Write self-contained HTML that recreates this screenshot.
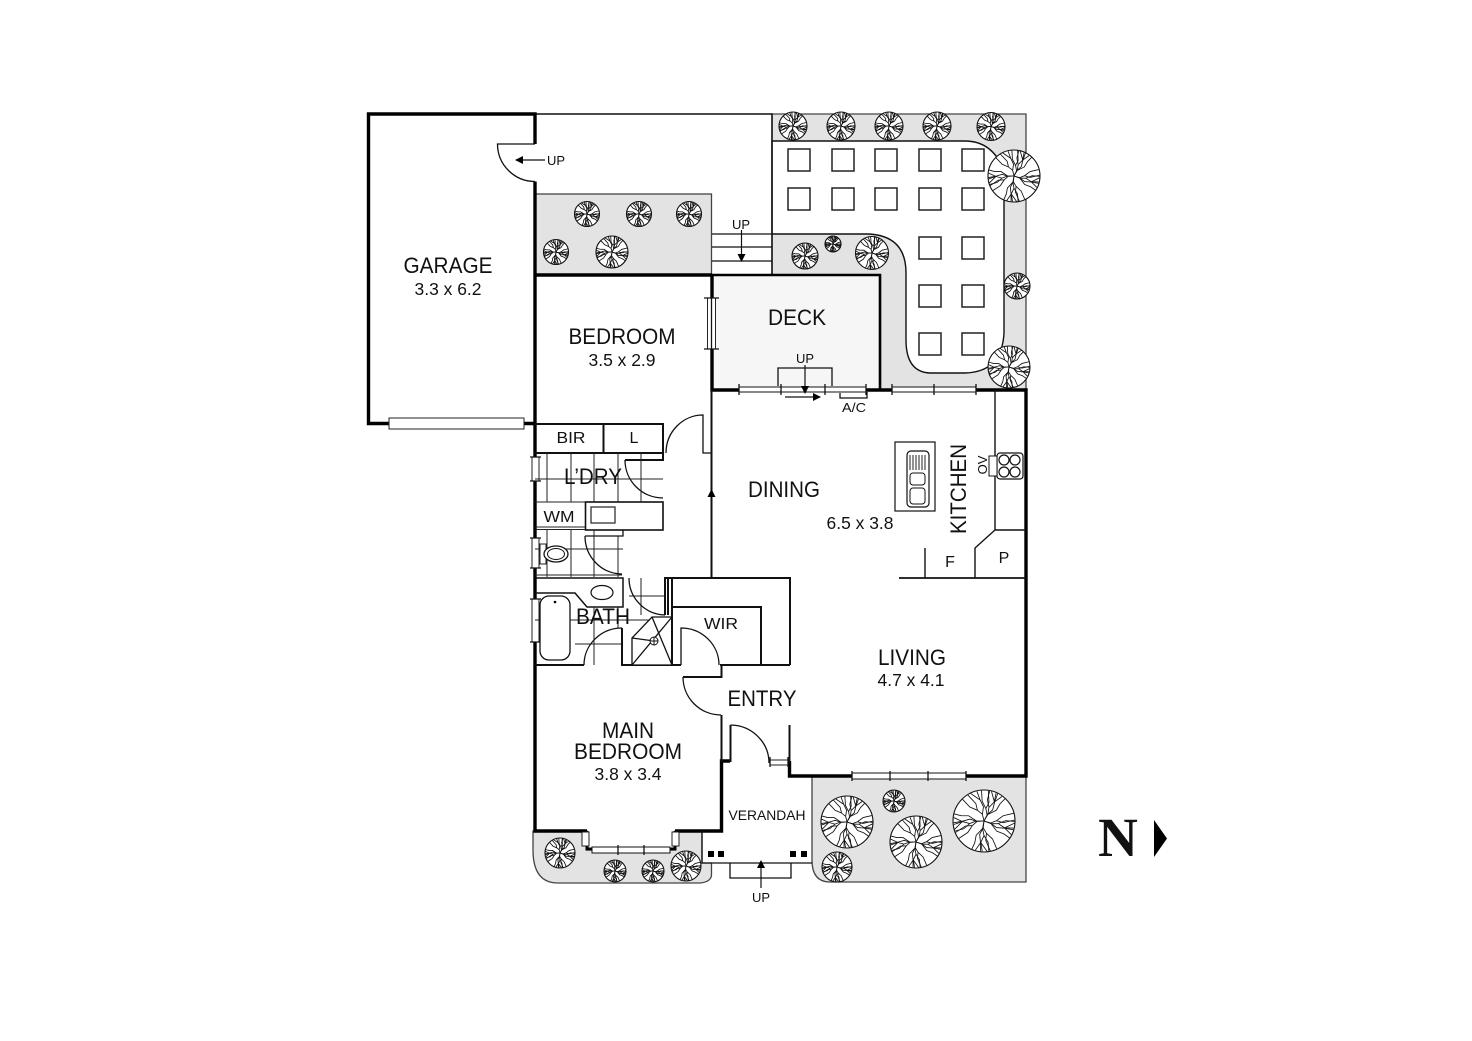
<!DOCTYPE html>
<html><head><meta charset="utf-8"><style>
html,body{margin:0;padding:0;background:#fff}
svg{display:block;filter:blur(.3px)}
text{font-family:"Liberation Sans",Arial,sans-serif;fill:#111;text-anchor:middle}
.l{font-size:22px}.d{font-size:17.500px}.s{font-size:13px}.m{font-size:16px}
.t{fill:none;stroke:#111;stroke-width:1.3}
.w{fill:none;stroke:#000;stroke-width:3.4}
.m2{fill:none;stroke:#111;stroke-width:2}
.g{fill:#e3e3e3;stroke:#444;stroke-width:1.3}
.tile{fill:none;stroke:#222;stroke-width:1}
.sq{fill:#fff;stroke:#222;stroke-width:1.5}
.win{fill:#fff;stroke:#222;stroke-width:1}
</style></head><body>
<svg width="1472" height="1041" viewBox="0 0 1472 1041" xmlns="http://www.w3.org/2000/svg">
<defs>
<g id="b1"><path d="M0 0L5-10L3-20L8-30L7-49M5-10L14-18L17-30L22-44M3-20L-3-32L-4-49M17-30L12-48" fill="none" stroke="#111" stroke-width=".85" vector-effect="non-scaling-stroke"/></g>
<g id="b2"><path d="M0 0L-2-12L-8-22L-7-34L-14-47M-2-12L4-26L2-38L3-50M-8-22L-18-30L-24-43M-7-34L-3-49" fill="none" stroke="#111" stroke-width=".85" vector-effect="non-scaling-stroke"/></g>
<g id="tree">
<circle r="50" fill="#fff" stroke="#111" stroke-width="1.1" vector-effect="non-scaling-stroke"/>
<use href="#b1"/><use href="#b2" transform="rotate(40)"/><use href="#b1" transform="rotate(80)"/><use href="#b2" transform="rotate(120)"/><use href="#b1" transform="rotate(160)"/><use href="#b2" transform="rotate(200)"/><use href="#b1" transform="rotate(240)"/><use href="#b2" transform="rotate(280)"/><use href="#b1" transform="rotate(320)"/>
</g>
<marker id="a" viewBox="0 0 8 8" refX="7" refY="4" markerWidth="8" markerHeight="8" markerUnits="userSpaceOnUse" orient="auto"><path d="M0 0L8 4L0 8Z" fill="#000"/></marker>
</defs>
<rect width="1472" height="1041" fill="#fff"/>

<!-- gardens -->
<rect class="g" x="535" y="194" width="176.500" height="81"/>
<path class="g" d="M772 114H1026V390H880V275H772Z"/>
<path d="M772 141H965Q992 141 1004 170V333Q1002 372 965 373H930Q906 372 906 340V273Q906 235 867 234H772Z" fill="#fff" stroke="#111" stroke-width="1.4"/>
<rect x="712" y="275" width="168" height="115" fill="#f6f6f6"/>
<path class="g" d="M533 831H587V850H675V831H702V863H711.500V875Q711 882 700 883H558Q533 883 533 850Z"/>
<path class="g" d="M812 776V860Q812 882 830 882H1026V776Z"/>
<path d="M535 114H772V275" class="m2" style="stroke-width:1.500"/>

<!-- paving -->
<g class="sq">
<rect x="788" y="149" width="22" height="22"/><rect x="832" y="149" width="22" height="22"/><rect x="875" y="149" width="22" height="22"/><rect x="919" y="149" width="22" height="22"/><rect x="962" y="149" width="22" height="22"/>
<rect x="788" y="188" width="22" height="22"/><rect x="832" y="188" width="22" height="22"/><rect x="875" y="188" width="22" height="22"/><rect x="919" y="188" width="22" height="22"/><rect x="962" y="188" width="22" height="22"/>
<rect x="919" y="237" width="22" height="22"/><rect x="962" y="237" width="22" height="22"/>
<rect x="919" y="285" width="22" height="22"/><rect x="962" y="285" width="22" height="22"/>
<rect x="919" y="333" width="22" height="22"/><rect x="962" y="333" width="22" height="22"/>
</g>

<!-- trees -->
<use href="#tree" transform="translate(793 126) scale(.28)"/><use href="#tree" transform="translate(841 126) scale(.28)"/><use href="#tree" transform="translate(889 126) scale(.28)"/><use href="#tree" transform="translate(937 126) scale(.28)"/><use href="#tree" transform="translate(991 126.500) scale(.28)"/>
<use href="#tree" transform="translate(1014 176) scale(.52)"/><use href="#tree" transform="translate(1017 286) scale(.26)"/><use href="#tree" transform="translate(1009 367) scale(.42)"/>
<use href="#tree" transform="translate(872 253) scale(.33)"/><use href="#tree" transform="translate(805 256) scale(.26)"/><use href="#tree" transform="translate(833 244) scale(.16)"/>
<use href="#tree" transform="translate(587 214) scale(.25)"/><use href="#tree" transform="translate(639 214) scale(.25)"/><use href="#tree" transform="translate(689 214) scale(.25)"/><use href="#tree" transform="translate(556 252) scale(.25)"/><use href="#tree" transform="translate(612 252) scale(.32)"/>
<use href="#tree" transform="translate(847 822) scale(.52)"/><use href="#tree" transform="translate(894 801) scale(.22)"/><use href="#tree" transform="translate(916 842) scale(.52)"/><use href="#tree" transform="translate(984 821) scale(.62)"/><use href="#tree" transform="translate(837 867) scale(.30)"/>
<use href="#tree" transform="translate(560 853) scale(.30)"/><use href="#tree" transform="translate(615 871) scale(.22)"/><use href="#tree" transform="translate(653 871) scale(.22)"/><use href="#tree" transform="translate(686 866) scale(.30)"/>

<!-- outer walls -->
<path class="w" d="M535 144V114H368.500V423.500H389M524 423.500H535M535 181.500V831H587M712 275V390H1026V776H852M789.500 761V776H852M966 776H1026M675 831H721.500V761H730M535 275H712"/>
<path class="w" style="stroke-width:2.600" d="M880 390V275H712"/>
<path class="t" d="M535 144H497.500A37.500 37.500 0 0 0 535 181.500"/>
<path d="M545 160H516" stroke="#111" stroke-width="1.200" marker-end="url(#a)"/>
<rect class="win" x="389" y="418" width="135" height="11" stroke-width="1.300"/>

<!-- windows -->
<g>
<rect class="win" x="707.500" y="298" width="8" height="51"/><path class="t" d="M704 298H719M704 349H719M711.500 298V349"/>
<path d="M739 387H866V392H739Z" fill="#fff" stroke="#111"/><path d="M892 387H976V392H892Z" fill="#fff" stroke="#111"/>
<path class="t" d="M739 384V395M781 384V395M825 384V395M866 384V395M892 384V395M934 384V395M976 384V395"/>
<path d="M852 773H966V779H852Z" fill="#fff" stroke="#111"/>
<path class="t" d="M852 771V781M890 771V781M928 771V781M966 771V781"/>
<rect class="win" x="532" y="457" width="7" height="24"/><rect class="win" x="532" y="538" width="7" height="30"/><rect class="win" x="532" y="599" width="7" height="43"/>
<path class="t" d="M530 457H541M530 481H541M530 538H541M530 568H541M530 599H541M530 642H541"/>
</g>

<!-- deck items -->
<path class="t" d="M712 234H772M712 247H772M712 261H772"/>
<path d="M741.500 230V261" stroke="#111" stroke-width="1.200" marker-end="url(#a)"/>
<path class="t" d="M778 386V368H832V386M840 393V398H867V392"/>
<path d="M805 365V393" stroke="#111" stroke-width="1.200" marker-end="url(#a)"/>
<path d="M785 397H820" stroke="#111" stroke-width="1.200" marker-end="url(#a)"/>

<!-- BIR / laundry -->
<path class="m2" d="M535 424H663V460H625M535 453H663M603.500 424V453"/>
<path class="t" d="M625 460A38 38 0 0 0 663 498M666 453A37 38 0 0 1 703 415V453H711.500"/>
<path class="m2" d="M711.500 390V577"/>
<path d="M711.500 498V490" stroke="#111" stroke-width="1.200" marker-end="url(#a)"/>
<rect x="585.500" y="502" width="77.500" height="28" fill="#fff" stroke="#111" stroke-width="1.600"/>
<rect x="591" y="507" width="24" height="16" fill="#fff" stroke="#333" stroke-width="1.300"/>
<path class="tile" d="M547 453V502M571 453V502M594 453V502M618 453V502M641 453V502M535 479H663M535 502H585M535 527H585M535 529.500H585"/>
<path class="tile" d="M547 530V577M571 530V577M594 530V577M618 536V577M535 549H623M535 575H622"/>
<path class="t" d="M585 536H623V530M585 536A37 38 0 0 0 622 574"/>
<rect x="540" y="544" width="6" height="20" fill="#fff" stroke="#222"/>
<ellipse cx="556" cy="554" rx="12" ry="8" fill="#fff" stroke="#111" stroke-width="1.300"/><ellipse cx="556" cy="554" rx="8.500" ry="5.500" fill="#fff" stroke="#111"/>

<!-- bath -->
<path class="m2" style="stroke-width:1.500" d="M535 578H623V607H587L575 593H535"/>
<ellipse cx="602" cy="592.500" rx="11" ry="7" fill="#fff" stroke="#111" stroke-width="1.200"/>
<path class="tile" d="M594 607V665M618 607V628M641 578V615M629 596H665M535 620H672M575 644H622"/>
<path class="t" d="M629 578A37 37 0 0 0 665 615"/>
<path class="t" d="M584 665A38 37 0 0 1 622 628"/>
<path class="m2" d="M622 628V665H681M535 665H584M720 665H790"/>
<rect x="540" y="596" width="30" height="64" rx="9" fill="#fff" stroke="#111" stroke-width="1.300"/>
<circle cx="555" cy="602" r="1.300" fill="#000"/>
<path d="M632 638L652 617H672V665H632Z" fill="#fff" stroke="#111" stroke-width="1.300"/>
<path class="t" d="M632 665L672 617M652 617L672 665M632 638L654 641"/>
<circle cx="654" cy="641" r="4" fill="#fff" stroke="#111"/><path d="M650 641H658M654 637V645" stroke="#111"/>

<!-- WIR -->
<path class="m2" d="M665 615V578H790V665M672 578V665M668 578V615M672 607H761V665"/>
<path class="t" d="M681 665V628A38 37 0 0 1 719 665"/>

<!-- entry -->
<path class="m2" d="M721.500 665V677H683M721.500 715V762"/>
<path class="t" d="M683 677A38 38 0 0 0 721 715"/>
<path class="m2" d="M730.500 762V725M789.500 725V762"/>
<path class="t" d="M730.500 725A39 38 0 0 1 769 763"/>
<rect class="win" x="770" y="760" width="18" height="5"/><path class="t" d="M770 757V767M788 757V767"/>

<!-- bay window -->
<path class="w" style="stroke-width:3" d="M587 831V849H592M675 831V849H670"/>
<path d="M592 847H670V853H592Z" fill="#fff" stroke="#111"/><path class="t" d="M618 845V855M644 845V855"/>
<rect class="win" x="582" y="832" width="7" height="14"/><rect class="win" x="672" y="832" width="7" height="14"/>

<!-- verandah -->
<path class="t" d="M702 831V863H812M730 863V878H791V863"/>
<path d="M761 888V861" stroke="#111" stroke-width="1.200" marker-end="url(#a)"/>
<rect x="708" y="851" width="6" height="6"/><rect x="718" y="851" width="6" height="6"/><rect x="790" y="851" width="6" height="6"/><rect x="801" y="851" width="6" height="6"/>

<!-- kitchen -->
<path class="t" d="M995 390V530L975 548V578M995 530H1026M925 548V578" style="stroke-width:1.400"/>
<path class="m2" style="stroke-width:1.800" d="M899 578H1026"/>
<rect x="895" y="442" width="40" height="69" fill="#fff" stroke="#111" stroke-width="1.200"/>
<rect x="907" y="451" width="22" height="56" rx="4" fill="#fff" stroke="#111" stroke-width="1.200"/>
<path class="tile" d="M910 455V470M913 455V470M916 455V470M919 455V470M922 455V470M925 455V470"/>
<rect x="910" y="473" width="15" height="12" rx="3" fill="#fff" stroke="#111"/><rect x="910" y="488" width="15" height="16" rx="3" fill="#fff" stroke="#111"/>
<rect x="997" y="453" width="26" height="26" rx="3" fill="#fff" stroke="#111" stroke-width="1.200"/>
<rect x="989" y="456" width="8" height="20" fill="#fff" stroke="#111"/>
<g fill="#fff" stroke="#111" stroke-width="1.200"><circle cx="1004" cy="460" r="5"/><circle cx="1015" cy="460" r="5"/><circle cx="1004" cy="472" r="5"/><circle cx="1015" cy="472" r="5"/></g>

<!-- labels -->
<text class="l" x="448" y="273" textLength="89" lengthAdjust="spacingAndGlyphs">GARAGE</text>
<text class="d" x="448" y="295" textLength="67" lengthAdjust="spacingAndGlyphs">3.3 x 6.2</text>
<text class="l" x="622" y="344" textLength="107" lengthAdjust="spacingAndGlyphs">BEDROOM</text>
<text class="d" x="622" y="366" textLength="67" lengthAdjust="spacingAndGlyphs">3.5 x 2.9</text>
<text class="l" x="797" y="325" textLength="58" lengthAdjust="spacingAndGlyphs">DECK</text>
<text class="s" x="556" y="165">UP</text>
<text class="s" x="741" y="229">UP</text>
<text class="s" x="805" y="363">UP</text>
<text class="s" x="854" y="412" textLength="24" lengthAdjust="spacingAndGlyphs">A/C</text>
<text class="m" x="571" y="443" textLength="29" lengthAdjust="spacingAndGlyphs">BIR</text>
<text class="m" x="634" y="443">L</text>
<text class="l" x="593" y="484" textLength="58" lengthAdjust="spacingAndGlyphs">L’DRY</text>
<text class="m" x="559" y="522" textLength="31" lengthAdjust="spacingAndGlyphs">WM</text>
<text class="l" x="603" y="624" textLength="54" lengthAdjust="spacingAndGlyphs">BATH</text>
<text class="m" x="721" y="629" textLength="34" lengthAdjust="spacingAndGlyphs">WIR</text>
<text class="l" x="784" y="497" textLength="72" lengthAdjust="spacingAndGlyphs">DINING</text>
<text class="d" x="860" y="529" textLength="67" lengthAdjust="spacingAndGlyphs">6.5 x 3.8</text>
<text class="l" x="912" y="665" textLength="68" lengthAdjust="spacingAndGlyphs">LIVING</text>
<text class="d" x="911" y="686" textLength="67" lengthAdjust="spacingAndGlyphs">4.7 x 4.1</text>
<text class="l" x="762" y="706" textLength="69" lengthAdjust="spacingAndGlyphs">ENTRY</text>
<text class="l" x="628" y="738" textLength="52" lengthAdjust="spacingAndGlyphs">MAIN</text>
<text class="l" x="628" y="759" textLength="108" lengthAdjust="spacingAndGlyphs">BEDROOM</text>
<text class="d" x="628" y="780" textLength="67" lengthAdjust="spacingAndGlyphs">3.8 x 3.4</text>
<text x="767" y="820" font-size="14" textLength="77" lengthAdjust="spacingAndGlyphs">VERANDAH</text>
<text class="s" x="761" y="902">UP</text>
<text class="l" transform="translate(966 489) rotate(-90)" textLength="90" lengthAdjust="spacingAndGlyphs">KITCHEN</text>
<text class="s" transform="translate(987 465) rotate(-90)">OV</text>
<text class="m" x="950" y="567">F</text>
<text class="m" x="1004" y="563">P</text>
<text x="1118" y="856" font-size="55" font-weight="700" style="font-family:'Liberation Serif',serif">N</text>
<path d="M1154 820L1167 838.500L1154 857Z" fill="#000"/>
</svg>
</body></html>
